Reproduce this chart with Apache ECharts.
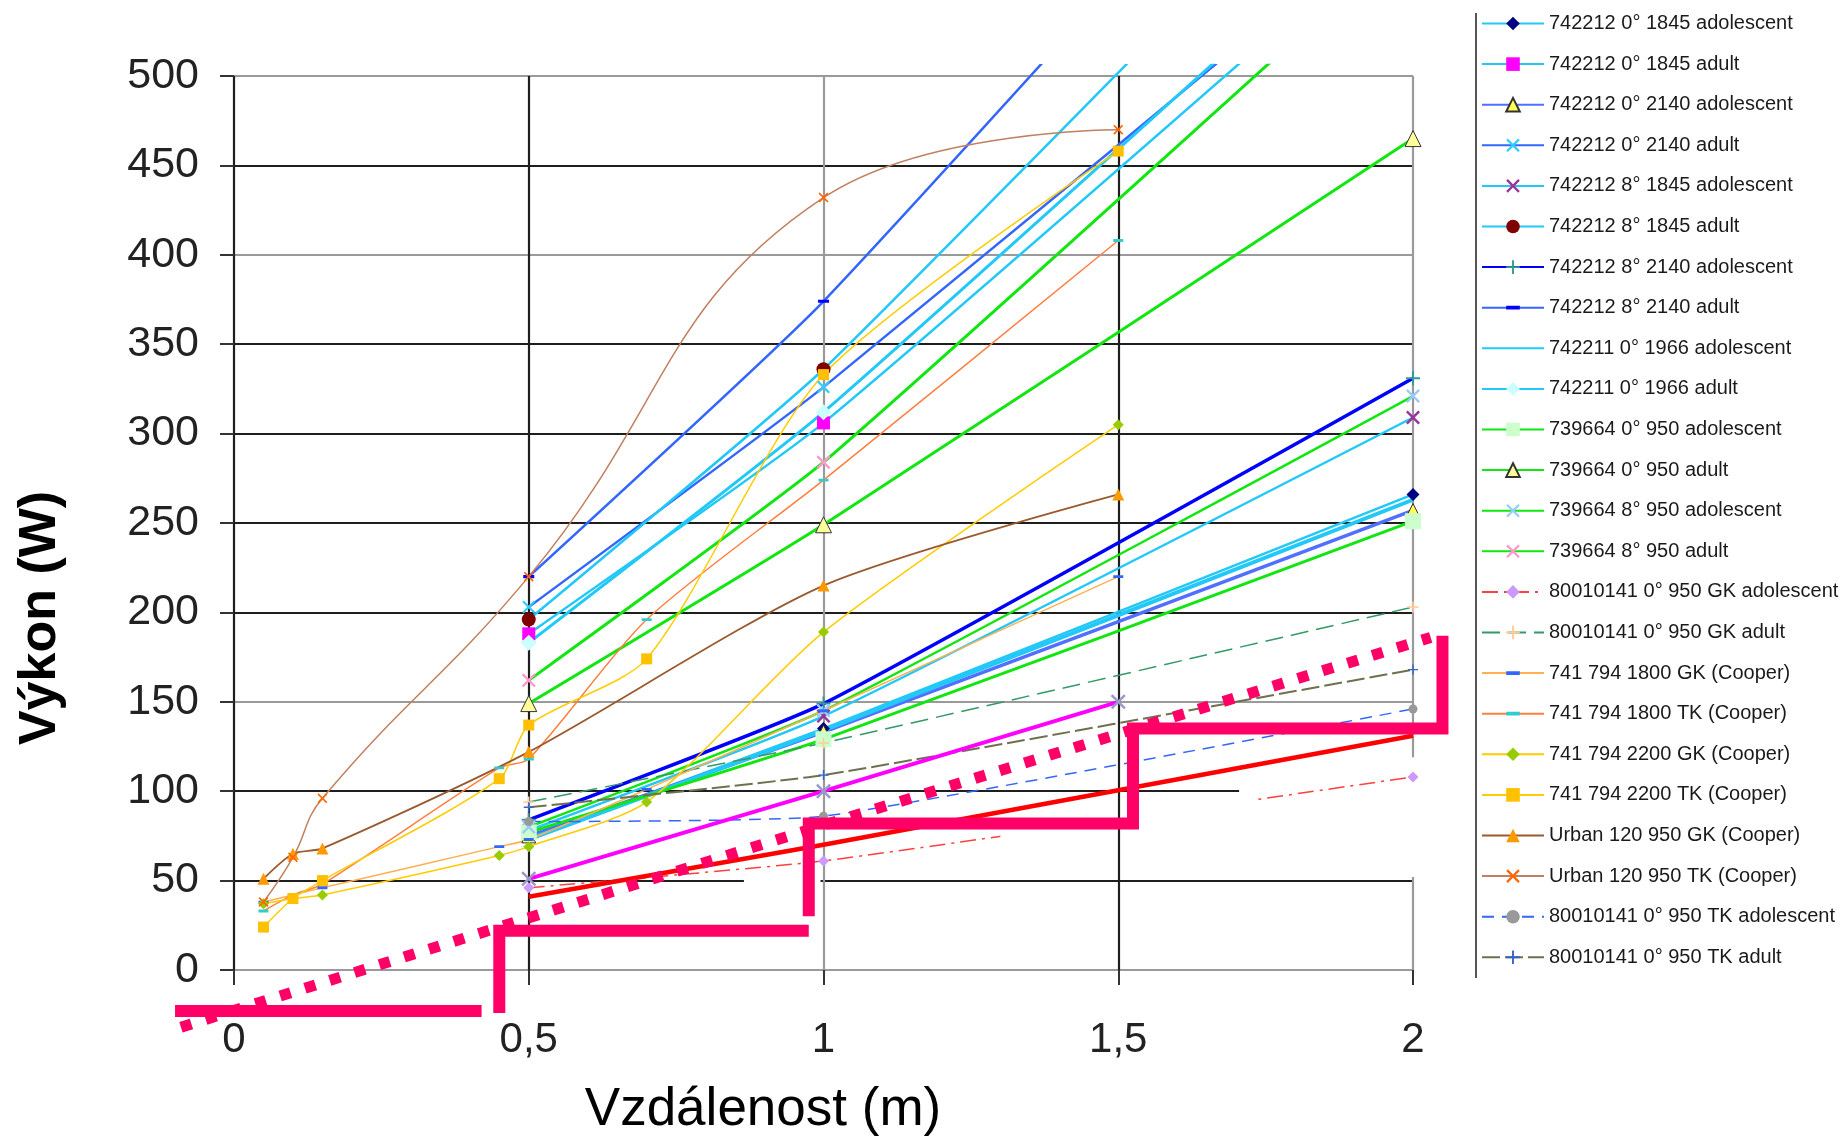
<!DOCTYPE html>
<html><head><meta charset="utf-8">
<script src="https://cdn.jsdelivr.net/npm/echarts@6/dist/echarts.min.js"></script>
<style>html,body{margin:0;padding:0;background:#fff}#c{width:1840px;height:1138px}</style>
</head><body><div id="c"></div>
<script>
// ---------- DATA ----------
const X_MAIN = [0.5, 1, 2];
const X_COOPER = [0.05, 0.1, 0.15, 0.45, 0.5, 0.7, 1, 1.5];
const X_URBAN = [0.05, 0.1, 0.15, 0.5, 1, 1.5];
const X_MAGENTA = [0.5, 1, 1.5];

const Y_742212_0_1845_adol = [74, 135, 266];
const Y_742212_0_1845_adult = [188, 306, 592];
const Y_742212_0_2140_adol = [75, 133, 257];
const Y_742212_0_2140_adult = [203, 326, 598];
const Y_742212_8_1845_adol = [78, 142, 309];
const Y_742212_8_1845_adult = [196, 336, 670];
const Y_742212_8_2140_adol = [84, 149, 331];
const Y_742212_8_2140_adult = [220, 374, 737];
const Y_742211_0_1966_adol = [73, 134, 263];
const Y_742211_0_1966_adult = [183, 312, 608];
const Y_739664_0_950_adol = [77, 129, 251];
const Y_739664_0_950_adult = [149, 249, 465];
const Y_739664_8_950_adol = [80, 145, 321];
const Y_739664_8_950_adult = [162, 284, 580];
const Y_80010141_GK_adol = [46, 61, 108];
const Y_80010141_GK_adult = [94, 127, 203];
const Y_741794_1800_GK = [38, 42, 46, 69, 73, 101, 145, 220];
const Y_741794_1800_TK = [33, 42, 48, 113, 118, 196, 274, 408];
const Y_741794_2200_GK = [37, 40, 42, 64, 69, 94, 189, 305];
const Y_741794_2200_TK = [24, 40, 50, 107, 137, 174, 333, 458];
const Y_Urban_GK = [51, 65, 68, 122, 215, 266];
const Y_Urban_TK = [38, 63, 96, 220, 432, 470];
const Y_80010141_TK_adol = [83, 86, 146];
const Y_80010141_TK_adult = [91, 109, 168];

const Y_RED = [41, 70, 131];
const Y_MAGENTA = [51, 100, 150];

const X_PINK_DOTTED = [-0.09, 1, 2.03];
const Y_PINK_DOTTED = [-32, 81, 186];
const X_STEP_A = [-0.1, 0.42];
const Y_STEP_A = [-23, -23];
const X_STEP_B = [0.45, 0.45, 0.975];
const Y_STEP_B = [-24, 22, 22];
const X_STEP_C = [0.975, 0.975, 1.525, 1.525, 2.05, 2.05];
const Y_STEP_C = [30, 82, 82, 135, 135, 187];

const X_TICKS = [0, 0.5, 1, 1.5, 2];

// ---------- STYLE ----------
const FONT = '"Liberation Sans", Arial, sans-serif';
const SYM_X = 'path://M0,1.2 L1.2,0 L5,3.8 L8.8,0 L10,1.2 L6.2,5 L10,8.8 L8.8,10 L5,6.2 L1.2,10 L0,8.8 L3.8,5 Z';
const SYM_PLUS = 'path://M4.3,0 H5.7 V4.3 H10 V5.7 H5.7 V10 H4.3 V5.7 H0 V4.3 H4.3 Z';
const SYM_DASH = 'path://M0,3.6 H10 V6.4 H0 Z M0,0 L0.01,0 L0,0.01 Z M10,10 L9.99,10 L10,9.99 Z';

const CYAN = '#22C8F8', BLUE = '#3366FF', GREEN = '#11E611';

function pairs(xs, ys) { return xs.map((x, i) => [x, ys[i]]); }
function mk(name, xs, ys, o) {
  const hasSym = o.symbol !== undefined && o.symbol !== 'none';
  return {
    name, type: 'line', data: pairs(xs, ys),
    xAxisIndex: o.axis || 1, yAxisIndex: o.axis || 1,
    smooth: o.smooth === undefined ? 0.15 : o.smooth,
    symbol: hasSym ? o.symbol : 'circle', symbolSize: o.size || 10,
    showSymbol: hasSym,
    lineStyle: { color: o.color, width: o.width || 2.5, type: o.dash || 'solid', cap: 'butt', join: o.join || 'round' },
    itemStyle: { color: o.sc || o.color, borderColor: o.bc || o.sc || o.color, borderWidth: o.bw || 0, opacity: hasSym ? 1 : 0 },
    clip: o.clip === undefined ? true : o.clip,
    z: o.z || 2,
    emphasis: { disabled: true }, silent: true, animation: false
  };
}

const series = [
  mk('742212 0° 1845 adolescent', X_MAIN, Y_742212_0_1845_adol, { color: CYAN, symbol: 'diamond', sc: '#000080', size: 13 }),
  mk('742212 0° 1845 adult', X_MAIN, Y_742212_0_1845_adult, { color: CYAN, symbol: 'rect', sc: '#FF00FF', size: 13 }),
  mk('742212 0° 2140 adolescent', X_MAIN, Y_742212_0_2140_adol, { color: '#5070FF', width: 3.5, symbol: 'triangle', sc: '#FFFF55', bc: '#333', bw: 1, size: 14 }),
  mk('742212 0° 2140 adult', X_MAIN, Y_742212_0_2140_adult, { color: BLUE, symbol: SYM_X, sc: '#33CCFF', size: 13 }),
  mk('742212 8° 1845 adolescent', X_MAIN, Y_742212_8_1845_adol, { color: CYAN, symbol: SYM_X, sc: '#993399', size: 14 }),
  mk('742212 8° 1845 adult', X_MAIN, Y_742212_8_1845_adult, { color: CYAN, symbol: 'circle', sc: '#800000', size: 14 }),
  mk('742212 8° 2140 adolescent', X_MAIN, Y_742212_8_2140_adol, { color: '#0000FF', width: 3.5, symbol: SYM_PLUS, sc: '#339999', size: 14 }),
  mk('742212 8° 2140 adult', X_MAIN, Y_742212_8_2140_adult, { color: BLUE, symbol: SYM_DASH, sc: '#0000FF', size: 11 }),
  mk('742211 0° 1966 adolescent', X_MAIN, Y_742211_0_1966_adol, { color: CYAN, width: 4 }),
  mk('742211 0° 1966 adult', X_MAIN, Y_742211_0_1966_adult, { color: CYAN, width: 3, symbol: 'diamond', sc: '#CCFFFF', size: 16 }),
  mk('739664 0° 950 adolescent', X_MAIN, Y_739664_0_950_adol, { color: GREEN, width: 3, symbol: 'rect', sc: '#CCFFCC', size: 16 }),
  mk('739664 0° 950 adult', X_MAIN, Y_739664_0_950_adult, { color: GREEN, width: 3, symbol: 'triangle', sc: '#FFFF99', bc: '#333', bw: 1, size: 16 }),
  mk('739664 8° 950 adolescent', X_MAIN, Y_739664_8_950_adol, { color: GREEN, symbol: SYM_X, sc: '#99CCFF', size: 14 }),
  mk('739664 8° 950 adult', X_MAIN, Y_739664_8_950_adult, { color: GREEN, width: 3, symbol: SYM_X, sc: '#FF99CC', size: 14 }),
  mk('80010141 0° 950 GK adolescent', X_MAIN, Y_80010141_GK_adol, { color: '#FF4040', width: 1.5, dash: [16, 6, 3, 6], symbol: 'diamond', sc: '#CC99FF', size: 11 }),
  mk('80010141 0° 950 GK adult', X_MAIN, Y_80010141_GK_adult, { color: '#339966', width: 1.5, dash: [18, 8], symbol: SYM_PLUS, sc: '#FFCC99', size: 11 }),
  mk('741 794 1800 GK (Cooper)', X_COOPER, Y_741794_1800_GK, { color: '#FFB050', width: 1.5, smooth: 0.25, symbol: SYM_DASH, sc: '#3366FF', size: 10 }),
  mk('741 794 1800 TK (Cooper)', X_COOPER, Y_741794_1800_TK, { color: '#FF7F3F', width: 1.5, smooth: 0.25, symbol: SYM_DASH, sc: '#33CCCC', size: 10 }),
  mk('741 794 2200 GK (Cooper)', X_COOPER, Y_741794_2200_GK, { color: '#FFCC00', width: 1.5, smooth: 0.25, symbol: 'diamond', sc: '#99CC00', size: 11 }),
  mk('741 794 2200 TK (Cooper)', X_COOPER, Y_741794_2200_TK, { color: '#FFCC00', width: 1.5, smooth: 0.25, symbol: 'rect', sc: '#FFC000', size: 11 }),
  mk('Urban 120 950 GK (Cooper)', X_URBAN, Y_Urban_GK, { color: '#9A5A2E', width: 1.8, smooth: 0.25, symbol: 'triangle', sc: '#FF9900', size: 12 }),
  mk('Urban 120 950 TK (Cooper)', X_URBAN, Y_Urban_TK, { color: '#C08060', width: 1.5, smooth: 0.45, symbol: SYM_X, sc: '#FF6600', size: 10 }),
  mk('80010141 0° 950 TK adolescent', X_MAIN, Y_80010141_TK_adol, { color: '#3366FF', width: 1.5, dash: [12, 8], symbol: 'circle', sc: '#999999', size: 9 }),
  mk('80010141 0° 950 TK adult', X_MAIN, Y_80010141_TK_adult, { color: '#707050', width: 2, dash: [18, 5], symbol: SYM_PLUS, sc: '#3366CC', size: 10 }),
  // series not listed in the legend
  mk('red', X_MAIN, Y_RED, { color: '#FF0000', width: 4.5, smooth: 0, z: 3 }),
  mk('magenta', X_MAGENTA, Y_MAGENTA, { color: '#FF00FF', width: 4, smooth: 0.1, symbol: SYM_X, sc: '#9999CC', size: 15, z: 3 }),
  mk('pinkDotted', X_PINK_DOTTED, Y_PINK_DOTTED, { axis: 2, color: '#FF0066', width: 11, smooth: 0, dash: [11, 15], clip: false, z: 4 }),
  mk('stepA', X_STEP_A, Y_STEP_A, { axis: 2, color: '#FF0066', width: 12, smooth: 0, clip: false, join: 'miter', z: 4 }),
  mk('stepB', X_STEP_B, Y_STEP_B, { axis: 2, color: '#FF0066', width: 12, smooth: 0, clip: false, join: 'miter', z: 4 }),
  mk('stepC', X_STEP_C, Y_STEP_C, { axis: 2, color: '#FF0066', width: 12, smooth: 0, clip: false, join: 'miter', z: 4 })
];
const legendNames = series.slice(0, 24).map(s => s.name);

// ---------- LAYOUT ----------
const L = 234, R = 427, T = 76, B = 168;     // visible plot rectangle
const PX_X = (1840 - L - R) / 2;              // pixels per metre
const PX_Y = (1138 - T - B) / 500;            // pixels per watt
const BLK = '#1e1e1e', GRY = '#9a9a9a';
const hidden = { show: false, splitLine: { show: false } };
const px = x => L + x * PX_X, py = v => 1138 - B - v * PX_Y;

const chart = echarts.init(document.getElementById('c'), null, { renderer: 'canvas' });
chart.setOption({
  animation: false,
  backgroundColor: '#ffffff',
  grid: [
    { left: L, right: R, top: T, bottom: B },
    { left: L, right: R, top: T - 6 * PX_Y, bottom: B },                       // data, slight overflow above 500
    { left: L - 0.15 * PX_X, right: R - 0.15 * PX_X, top: T, bottom: B - 50 * PX_Y } // pink overlay
  ],
  xAxis: [
    {
      gridIndex: 0, type: 'value', min: X_TICKS[0], max: X_TICKS[X_TICKS.length - 1], interval: 0.5,
      axisLine: { show: false },
      axisTick: { show: true, length: 15, lineStyle: { color: '#333', width: 2 } },
      splitLine: { show: true, lineStyle: { color: [BLK, BLK, GRY, BLK, GRY], width: 2.2 } },
      axisLabel: { margin: 49, fontSize: 42, color: '#222', fontFamily: FONT,
        formatter: v => String(v).replace('.', ',') }
    },
    Object.assign({ gridIndex: 1, type: 'value', min: 0, max: 2 }, hidden),
    Object.assign({ gridIndex: 2, type: 'value', min: -0.15, max: 2.15 }, hidden)
  ],
  yAxis: [
    {
      gridIndex: 0, type: 'value', min: 0, max: 500, interval: 50,
      axisLine: { show: false },
      axisTick: { show: true, length: 14, lineStyle: { color: '#333', width: 2 } },
      splitLine: { show: true, lineStyle: { color: [GRY, BLK, BLK, GRY, BLK, BLK, BLK, BLK, GRY, BLK, GRY], width: 2.2 } },
      axisLabel: { margin: 35, fontSize: 43, color: '#222', fontFamily: FONT }
    },
    Object.assign({ gridIndex: 1, type: 'value', min: 0, max: 506 }, hidden),
    Object.assign({ gridIndex: 2, type: 'value', min: -50, max: 500 }, hidden)
  ],
  legend: {
    data: legendNames, orient: 'vertical', left: 1481, top: 13.5, padding: 0,
    itemWidth: 62, itemHeight: 17, itemGap: 20.6,
    textStyle: { fontSize: 20, lineHeight: 20, color: '#1a1a1a', fontFamily: FONT },
    selectedMode: false
  },
  graphic: [
    { type: 'line', shape: { x1: 1476, y1: 13, x2: 1476, y2: 978 }, style: { stroke: '#555', lineWidth: 2 } },
    { type: 'text', x: 41, y: 618, rotation: Math.PI / 2,
      style: { text: 'Výkon (W)', font: 'bold 52px ' + FONT, fill: '#000', textAlign: 'center', textVerticalAlign: 'middle' } },
    { type: 'text', x: 763, y: 1110,
      style: { text: 'Vzdálenost (m)', font: '53px ' + FONT, fill: '#000', textAlign: 'center', textVerticalAlign: 'middle' } },
    // whited-out patches of the original picture
    { type: 'rect', z: 1, shape: { x: px(0.865), y: py(53), width: px(0.995) - px(0.865), height: 10 }, style: { fill: '#fff' } },
    { type: 'rect', z: 1, shape: { x: px(1.705), y: py(119), width: px(2.07) - px(1.705), height: py(52) - py(119) }, style: { fill: '#fff' } },
    { type: 'rect', z: 2.5, shape: { x: px(1.3), y: py(97), width: px(1.493) - px(1.3), height: py(66) - py(97) }, style: { fill: '#fff' } },
    { type: 'rect', z: 2.5, shape: { x: px(1.507), y: py(97), width: px(1.73) - px(1.507), height: py(66) - py(97) }, style: { fill: '#fff' } }
  ],
  series
});
</script>
</body></html>
